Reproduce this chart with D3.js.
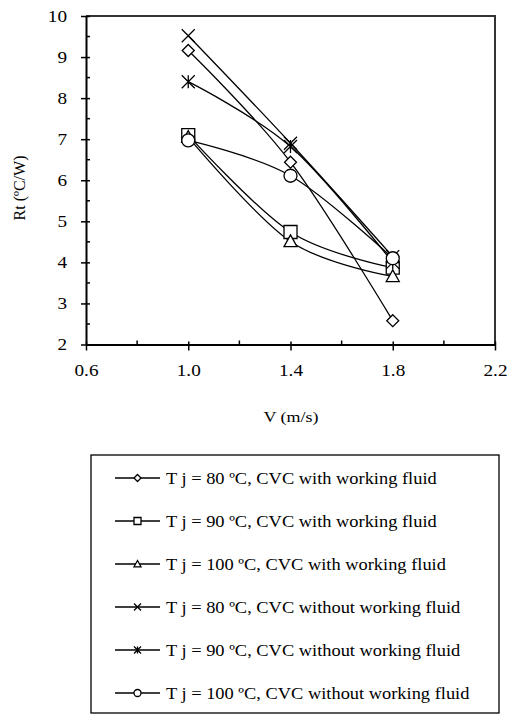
<!DOCTYPE html>
<html>
<head>
<meta charset="utf-8">
<script src="https://cdn.jsdelivr.net/npm/d3@7"></script>
<style>
body { margin: 0; background: #fff; }
text { font-family: "Liberation Serif", "Times New Roman", serif; fill: #000; }
</style>
</head>
<body>
<script>
var w = 512;
var h = 715;

// data
var speeds = [1.0, 1.4, 1.8];
var seriesNames = [
  "T j = 80 \u00baC, CVC with working fluid",
  "T j = 90 \u00baC, CVC with working fluid",
  "T j = 100 \u00baC, CVC with working fluid",
  "T j = 80 \u00baC, CVC without working fluid",
  "T j = 90 \u00baC, CVC without working fluid",
  "T j = 100 \u00baC, CVC without working fluid"
];
var markers = ["diamond", "square", "triangle", "cross", "star", "circle"];
var rt80with = [9.16, 6.44, 2.58];
var rt90with = [7.1, 4.74, 3.87];
var rt100with = [7.05, 4.51, 3.66];
var rt80without = [9.52, 6.9, 4.14];
var rt90without = [8.4, 6.82, 4.0];
var rt100without = [6.97, 6.11, 4.1];
var allSeries = [rt80with, rt90with, rt100with, rt80without, rt90without, rt100without];

var xTicks = [0.6, 1.0, 1.4, 1.8, 2.2];
var xMinor = [0.8, 1.2, 1.6, 2.0];
var yTicks = [2, 3, 4, 5, 6, 7, 8, 9, 10];
var yMinor = [2.5, 3.5, 4.5, 5.5, 6.5, 7.5, 8.5, 9.5];

var pLeft = 86, pRight = 495, pTop = 16, pBottom = 344.5;
var stretch = 1.2; // text in the picture is drawn a bit wide

var svg = d3.select("body").append("svg")
  .attr("width", w)
  .attr("height", h);

var x = d3.scaleLinear().domain([0.6, 2.2]).range([pLeft, pRight]);
var y = d3.scaleLinear().domain([2, 10]).range([pBottom, pTop]);

// top and right border
svg.append("path")
  .attr("d", "M" + pLeft + "," + pTop + "H" + pRight + "V" + pBottom)
  .attr("fill", "none")
  .attr("stroke", "#333")
  .attr("stroke-width", 2);

// x axis
var xAxis = svg.append("g")
  .attr("transform", "translate(0," + pBottom + ")")
  .call(d3.axisBottom(x).tickValues(xTicks).tickFormat(d3.format(".1f")).tickSize(0).tickPadding(20));
xAxis.select(".domain").attr("stroke-width", 2);
xAxis.selectAll(".tick line").attr("y1", -3).attr("y2", 6).attr("stroke-width", 1.5);
xAxis.selectAll(".tick text")
  .attr("transform", "scale(" + stretch + ",1)")
  .style("font-family", "Liberation Serif, serif")
  .style("font-size", "16px");
xAxis.selectAll(".minor")
  .data(xMinor).enter()
  .append("line")
  .attr("x1", function(d) { return x(d); })
  .attr("x2", function(d) { return x(d); })
  .attr("y1", -4).attr("y2", 0)
  .attr("stroke", "#000").attr("stroke-width", 1.5);

// y axis
var yAxis = svg.append("g")
  .attr("transform", "translate(" + pLeft + ",0)")
  .call(d3.axisLeft(y).tickValues(yTicks).tickFormat(d3.format("d")).tickSize(0));
yAxis.select(".domain").attr("stroke-width", 2);
yAxis.selectAll(".tick line").attr("x1", -5).attr("x2", 4).attr("stroke-width", 1.5);
yAxis.selectAll(".tick text")
  .attr("x", -19 / stretch)
  .attr("transform", "scale(" + stretch + ",1)")
  .style("font-family", "Liberation Serif, serif")
  .style("font-size", "16px");
yAxis.selectAll(".minor")
  .data(yMinor).enter()
  .append("line")
  .attr("y1", function(d) { return y(d); })
  .attr("y2", function(d) { return y(d); })
  .attr("x1", 0).attr("x2", 4)
  .attr("stroke", "#000").attr("stroke-width", 1.5);

// axis titles
svg.append("text")
  .attr("transform", "translate(291,422) scale(" + stretch + ",1)")
  .attr("text-anchor", "middle")
  .style("font-size", "15px")
  .text("V (m/s)");
svg.append("text")
  .attr("transform", "translate(25,188) rotate(-90)")
  .attr("text-anchor", "middle")
  .style("font-size", "16px")
  .text("Rt (\u00baC/W)");

function markerPath(type, s) {
  var r = s / 2;
  if (type == "diamond") return "M0," + (-r) + "L" + r + ",0L0," + r + "L" + (-r) + ",0Z";
  if (type == "square") return "M" + (-r) + "," + (-r) + "H" + r + "V" + r + "H" + (-r) + "Z";
  if (type == "triangle") return "M0," + (-r) + "L" + r + "," + (r * 0.8) + "H" + (-r) + "Z";
  if (type == "cross") return "M" + (-r) + "," + (-r) + "L" + r + "," + r + "M" + r + "," + (-r) + "L" + (-r) + "," + r;
  if (type == "star") return "M" + (-r) + "," + (-r) + "L" + r + "," + r + "M" + r + "," + (-r) + "L" + (-r) + "," + r + "M0," + (-r) + "V" + r;
  return "M" + r + ",0A" + r + "," + r + " 0 1,1 " + (-r) + ",0A" + r + "," + r + " 0 1,1 " + r + ",0Z";
}

var line = d3.line()
  .x(function(d, i) { return x(speeds[i]); })
  .y(function(d) { return y(d); })
  .curve(d3.curveCardinal.tension(0));

svg.selectAll(".series")
  .data(allSeries).enter()
  .append("path")
  .attr("class", "series")
  .attr("d", line)
  .attr("fill", "none")
  .attr("stroke", "#000")
  .attr("stroke-width", 1.3);

allSeries.forEach(function(vals, k) {
  svg.selectAll(".m" + k)
    .data(vals).enter()
    .append("path")
    .attr("class", "m" + k)
    .attr("transform", function(d, i) { return "translate(" + x(speeds[i]) + "," + y(d) + ")"; })
    .attr("d", markerPath(markers[k], markers[k] == "diamond" ? 12 : 13))
    .attr("fill", markers[k] == "cross" || markers[k] == "star" ? "none" : "#fff")
    .attr("stroke", "#000")
    .attr("stroke-width", 1.3);
});

// legend
var legend = svg.append("g");
legend.append("rect")
  .attr("x", 91).attr("y", 455)
  .attr("width", 408).attr("height", 258)
  .attr("fill", "none")
  .attr("stroke", "#000")
  .attr("stroke-width", 1.3);

var items = legend.selectAll(".item")
  .data(seriesNames).enter()
  .append("g")
  .attr("class", "item")
  .attr("transform", function(d, i) { return "translate(0," + (478 + i * 43) + ")"; });
items.append("line")
  .attr("x1", 115).attr("x2", 160)
  .attr("stroke", "#000").attr("stroke-width", 1.3);
items.append("path")
  .attr("transform", "translate(137.5,0)")
  .attr("d", function(d, i) { return markerPath(markers[i], 7); })
  .attr("fill", function(d, i) { return markers[i] == "cross" || markers[i] == "star" ? "none" : "#fff"; })
  .attr("stroke", "#000").attr("stroke-width", 1.3);
items.append("text")
  .attr("transform", "translate(166,0) scale(1.15,1)")
  .attr("dy", "0.35em")
  .style("font-size", "16px")
  .text(function(d) { return d; });
</script>
</body>
</html>
